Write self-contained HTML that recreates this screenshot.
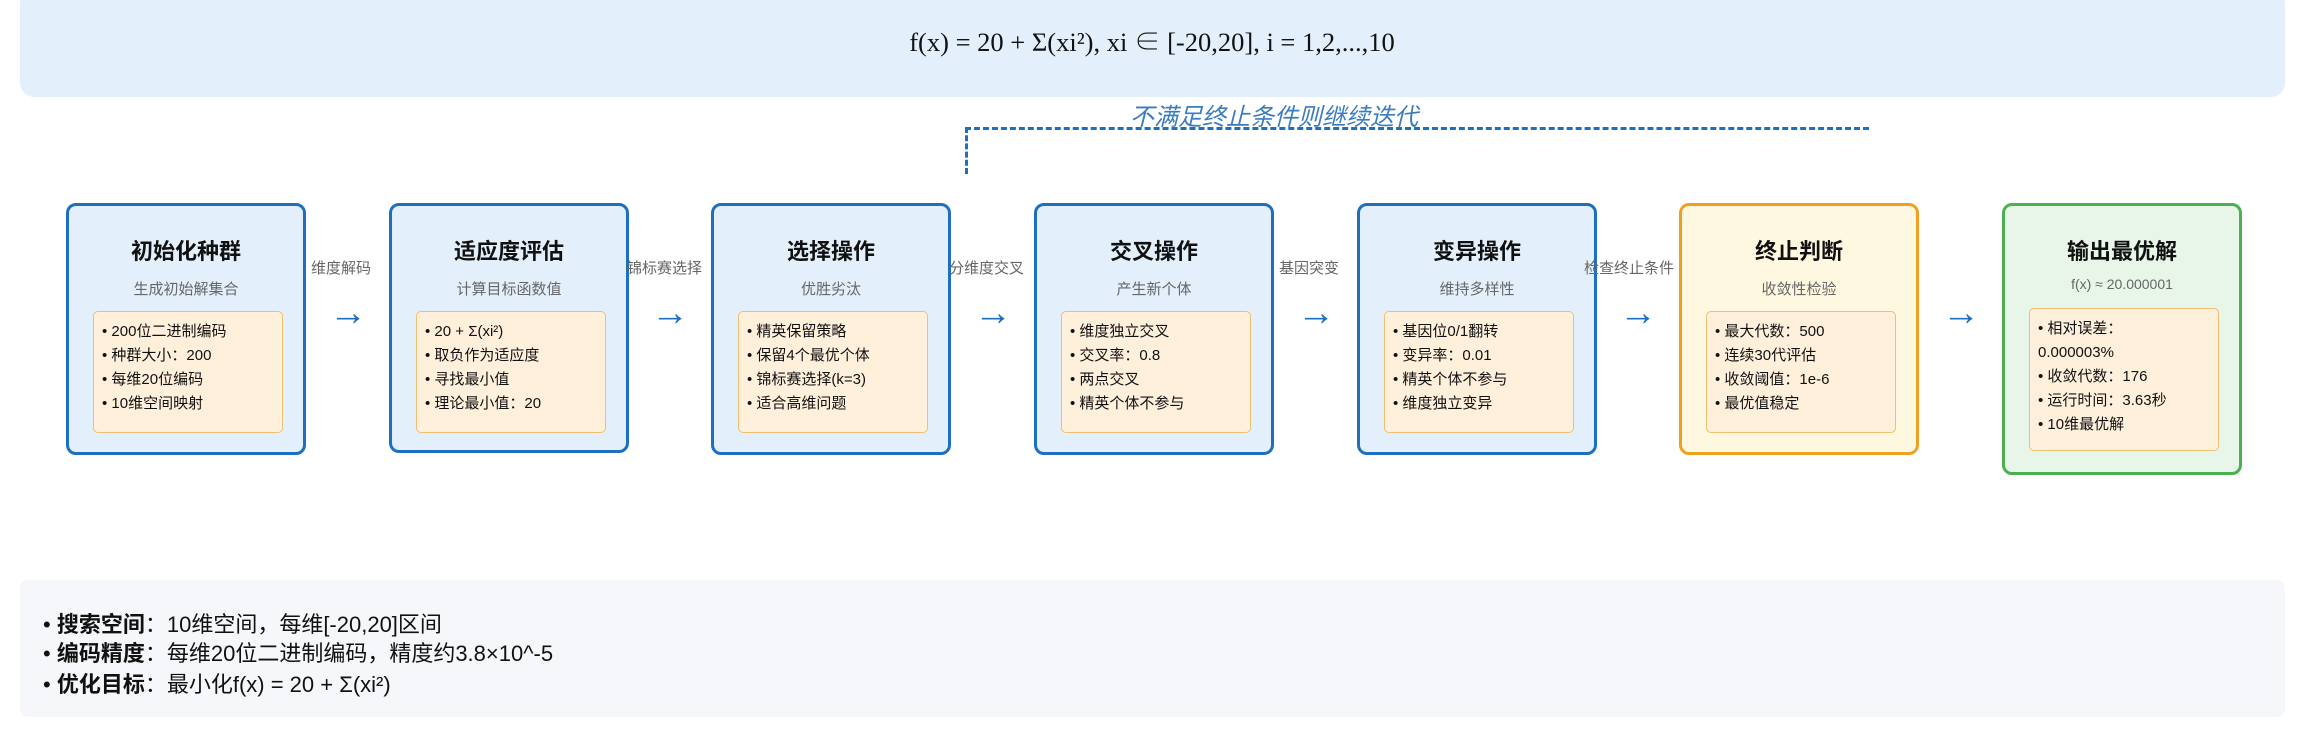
<!DOCTYPE html>
<html><head><meta charset="utf-8"><style>
*{margin:0;padding:0;box-sizing:border-box}
body{width:2304px;height:743px;background:#fff;position:relative;overflow:hidden;font-family:"Liberation Sans","Noto Sans CJK SC",sans-serif}
.hdr{position:absolute;left:20px;top:-10px;width:2265px;height:107px;background:#e3f0fb;border-radius:14px}
.formula{position:absolute;left:0;top:20px;width:2304px;text-align:center;font-family:"Liberation Serif","Noto Serif CJK SC",serif;font-size:26.5px;color:#111}
.box{position:absolute;top:203px;width:240px;height:252px;border:3px solid #1f6fbf;background:#e3f0fb;border-radius:10px}
.box h3{position:absolute;top:28px;left:0;width:100%;text-align:center;font-size:22px;font-weight:bold;color:#111}
.box .sub{position:absolute;top:72px;left:0;width:100%;text-align:center;font-size:15px;color:#666}
.inner{position:absolute;left:24px;top:105px;width:190px;height:122px;background:#fff0dc;border:1.5px solid #f0c070;border-radius:5px;padding:8px 0 0 8px;font-size:15px;line-height:24px;color:#111}
.lbl{position:absolute;top:257px;font-size:15px;color:#666;white-space:nowrap}
.arr{position:absolute;top:292px;font-size:38px;color:#1f6fbf}
.bottom{position:absolute;left:20px;top:580px;width:2265px;height:137px;background:#f5f7fa;border-radius:8px}
.bl{position:absolute;left:43px;font-size:22px;color:#111;white-space:nowrap}
</style></head><body>
<div class="hdr"></div>
<div class="formula">f(x) = 20 + Σ(xi²), xi ∈ [-20,20], i = 1,2,...,10</div>
<div style="position:absolute;left:1130px;top:97px;font-size:24px;font-style:italic;color:#3a7cc0;white-space:nowrap">不满足终止条件则继续迭代</div>
<div style="position:absolute;left:965px;top:127px;width:904px;border-top:3px dashed #1f6fbf"></div>
<div style="position:absolute;left:965px;top:127px;height:47px;border-left:3px dashed #1f6fbf"></div>

<div class="box" style="left:66px"><h3>初始化种群</h3><div class="sub">生成初始解集合</div><div class="inner">• 200位二进制编码<br>• 种群大小：200<br>• 每维20位编码<br>• 10维空间映射</div></div>
<div class="box" style="left:389px;height:250px"><h3>适应度评估</h3><div class="sub">计算目标函数值</div><div class="inner">• 20 + Σ(xi²)<br>• 取负作为适应度<br>• 寻找最小值<br>• 理论最小值：20</div></div>
<div class="box" style="left:711px"><h3>选择操作</h3><div class="sub">优胜劣汰</div><div class="inner">• 精英保留策略<br>• 保留4个最优个体<br>• 锦标赛选择(k=3)<br>• 适合高维问题</div></div>
<div class="box" style="left:1034px"><h3>交叉操作</h3><div class="sub">产生新个体</div><div class="inner">• 维度独立交叉<br>• 交叉率：0.8<br>• 两点交叉<br>• 精英个体不参与</div></div>
<div class="box" style="left:1357px"><h3>变异操作</h3><div class="sub">维持多样性</div><div class="inner">• 基因位0/1翻转<br>• 变异率：0.01<br>• 精英个体不参与<br>• 维度独立变异</div></div>
<div class="box" style="left:1679px;border-color:#f0a020;background:#fff8e1"><h3>终止判断</h3><div class="sub">收敛性检验</div><div class="inner">• 最大代数：500<br>• 连续30代评估<br>• 收敛阈值：1e-6<br>• 最优值稳定</div></div>
<div class="box" style="left:2002px;height:272px;border-color:#4caf50;background:#e8f5e9"><h3>输出最优解</h3><div class="sub" style="top:70px;font-size:14px">f(x) ≈ 20.000001</div><div class="inner" style="top:102px;height:143px;line-height:24px">• 相对误差：<br>0.000003%<br>• 收敛代数：176<br>• 运行时间：3.63秒<br>• 10维最优解</div></div>

<div class="lbl" style="left:311px">维度解码</div>
<div class="lbl" style="left:627px">锦标赛选择</div>
<div class="lbl" style="left:949px">分维度交叉</div>
<div class="lbl" style="left:1279px">基因突变</div>
<div class="lbl" style="left:1584px">检查终止条件</div>
<div class="arr" style="left:329px">→</div>
<div class="arr" style="left:651px">→</div>
<div class="arr" style="left:974px">→</div>
<div class="arr" style="left:1297px">→</div>
<div class="arr" style="left:1619px">→</div>
<div class="arr" style="left:1942px">→</div>

<div class="bottom"></div>
<div class="bl" style="top:607px">• <b>搜索空间</b>：10维空间，每维[-20,20]区间</div>
<div class="bl" style="top:636px">• <b>编码精度</b>：每维20位二进制编码，精度约3.8×10^-5</div>
<div class="bl" style="top:667px">• <b>优化目标</b>：最小化f(x) = 20 + Σ(xi²)</div>
</body></html>
